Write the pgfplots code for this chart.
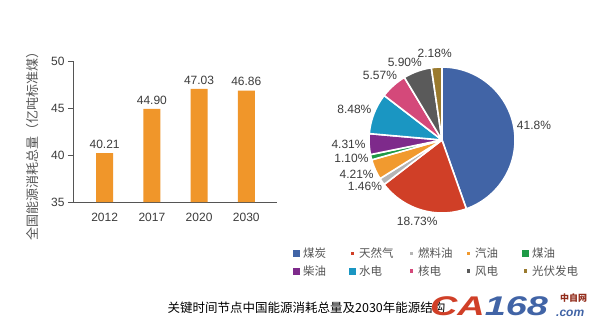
\documentclass[border=0pt]{standalone}
\usepackage{pgfplots}
\pgfplotsset{compat=1.18}
\usepackage{fontspec}
\setmainfont{Liberation Sans}
\newfontfamily\cjk{Noto Sans CJK SC}
\definecolor{barorange}{HTML}{F0962A}
\definecolor{axisgray}{HTML}{555555}
\definecolor{txtgray}{HTML}{3C3C3C}
\definecolor{cCoal}{HTML}{4164A6}
\definecolor{cGas}{HTML}{D03F27}
\definecolor{cFuel}{HTML}{B5B5B5}
\definecolor{cGasoline}{HTML}{F19A2F}
\definecolor{cKero}{HTML}{1E9A46}
\definecolor{cDiesel}{HTML}{7E2A8B}
\definecolor{cHydro}{HTML}{1A96C2}
\definecolor{cNuc}{HTML}{D4497A}
\definecolor{cWind}{HTML}{5A5A5A}
\definecolor{cSolar}{HTML}{9A7A2E}
\newcommand\fs{\fontsize{12}{14}\selectfont}
\def\T{93.74}
\newcommand\slice[3]{%
  \pgfmathsetmacro\sa{90-(360/\T)*(#1+#2)}%
  \pgfmathsetmacro\sb{90-(360/\T)*(#1)}%
  \edef\tmp{\noexpand\addplot[forget plot, fill=#3, draw=white, line width=1.6pt, line join=round, domain=\sa:\sb, samples=90] ({cos(x)},{sin(x)}) -- (0,0) -- cycle;}%
  \tmp
}
\pgfplotsset{
  bigsq/.style={legend image code/.code={\path[draw=none,fill=none] (0pt,-3.5pt) rectangle (7pt,3.5pt); \fill[#1, draw=none] (0pt,-3.5pt) rectangle (7pt,3.5pt);}},
  smsq/.style={legend image code/.code={\path[draw=none,fill=none] (0pt,-3.5pt) rectangle (7pt,3.5pt); \fill[#1, draw=none] (2pt,-1.6pt) rectangle (5.2pt,1.6pt);}},
}
\begin{document}
\begin{tikzpicture}
\useasboundingbox (0pt,0pt) rectangle (616pt,333pt);
\fill[white] (0pt,0pt) rectangle (616pt,333pt);
% bar chart
\begin{axis}[
  at={(73pt,131pt)}, anchor=south west,
  width=204pt, height=141pt, scale only axis,
  ymin=35, ymax=50, ytick={35,40,45,50},
  xmin=-0.67, xmax=3.65,
  axis x line=bottom, axis y line=left,
  axis line style={draw=axisgray, line width=0.9pt, -},
  xtick={0,1,2,3}, xticklabels={2012,2017,2020,2030},
  major x tick style={draw=none},
  extra x ticks={-0.67,0.5,1.5,2.5,3.65}, extra x tick labels={},
  extra x tick style={tick style={draw=axisgray, line width=0.9pt}},
  ytick style={draw=axisgray, line width=0.9pt},
  tick align=outside, major tick length=5pt,
  tick label style={font=\fs, text=txtgray},
  /pgf/number format/assume math mode=true,
  xticklabel style={yshift=-3pt},
  clip=false,
]
\addplot[ybar, bar width=17pt, fill=barorange, draw=none,
  nodes near coords={\pgfmathprintnumber[assume math mode=true,fixed,fixed zerofill,precision=2]{\pgfplotspointmeta}},
  nodes near coords style={font=\fs, text=txtgray, yshift=1pt}]
  coordinates {(0,40.21) (1,44.90) (2,47.03) (3,46.86)};
\end{axis}
\node[rotate=90, font=\cjk\fontsize{13}{15}\selectfont, text=axisgray] at (33pt,190pt) {全国能源消耗总量（亿吨标准煤）};
% pie chart
\begin{axis}[
  at={(296pt,47pt)}, anchor=south west,
  width=292pt, height=292pt, scale only axis,
  xmin=-2, xmax=2, ymin=-2, ymax=2,
  hide axis, clip=false,
  legend columns=5,
  legend style={at={(axis description cs:-0.0223,0.137)}, anchor=north west, draw=none, fill=none,
    font=\cjk\fontsize{11.5}{13}\selectfont, text=axisgray,
    nodes={inner sep=0pt}, column sep=0pt, row sep=6pt},
]
\slice{0}{41.8}{cCoal}
\slice{41.8}{18.73}{cGas}
\slice{60.53}{1.46}{cFuel}
\slice{61.99}{4.21}{cGasoline}
\slice{66.2}{1.10}{cKero}
\slice{67.3}{4.31}{cDiesel}
\slice{71.61}{8.48}{cHydro}
\slice{80.09}{5.57}{cNuc}
\slice{85.66}{5.90}{cWind}
\slice{91.56}{2.18}{cSolar}
\addlegendimage{bigsq=cCoal}\addlegendentry{\makebox[49pt][l]{\hspace{3.5pt}煤炭}}
\addlegendimage{smsq=cGas}\addlegendentry{\makebox[52pt][l]{\hspace{3.5pt}天然气}}
\addlegendimage{smsq=cFuel}\addlegendentry{\makebox[50pt][l]{\hspace{3.5pt}燃料油}}
\addlegendimage{smsq=cGasoline}\addlegendentry{\makebox[50pt][l]{\hspace{3.5pt}汽油}}
\addlegendimage{bigsq=cKero}\addlegendentry{\makebox[50pt][l]{\hspace{3.5pt}煤油}}
\addlegendimage{bigsq=cDiesel}\addlegendentry{\makebox[49pt][l]{\hspace{3.5pt}柴油}}
\addlegendimage{bigsq=cHydro}\addlegendentry{\makebox[52pt][l]{\hspace{3.5pt}水电}}
\addlegendimage{smsq=cNuc}\addlegendentry{\makebox[50pt][l]{\hspace{3.5pt}核电}}
\addlegendimage{smsq=cWind}\addlegendentry{\makebox[50pt][l]{\hspace{3.5pt}风电}}
\addlegendimage{smsq=cSolar}\addlegendentry{\makebox[50pt][l]{\hspace{3.5pt}光伏发电}}
\begin{scope}[every node/.style={font=\fs, text=txtgray}]
\node at (axis cs:1.26,0.205) {41.8\%};
\node at (axis cs:-0.34,-1.11) {18.73\%};
\node at (axis cs:-1.055,-0.64) {1.46\%};
\node at (axis cs:-1.17,-0.47) {4.21\%};
\node at (axis cs:-1.24,-0.25) {1.10\%};
\node at (axis cs:-1.28,-0.055) {4.31\%};
\node at (axis cs:-1.20,0.425) {8.48\%};
\node at (axis cs:-0.85,0.89) {5.57\%};
\node at (axis cs:-0.51,1.07) {5.90\%};
\node at (axis cs:-0.10,1.19) {2.18\%};
\end{scope}
\end{axis}
% caption
\node[font=\cjk\fontsize{12.5}{14}\selectfont, text=black] at (306.5pt,25pt) {关键时间节点中国能源消耗总量及2030年能源结构};
% watermark logo
\node[anchor=west, inner sep=0pt] at (430pt,27pt) {\scalebox{1.4}[1]{\fontsize{27}{28}\selectfont\bfseries\itshape\textcolor{cGas}{CA}\textcolor{cCoal}{168}}};
\node[anchor=west, inner sep=0pt, font=\fontsize{12}{12}\selectfont\bfseries\itshape, text=cCoal] at (556pt,20pt) {.com};
\node[anchor=west, inner sep=0pt, font=\cjk\fontsize{9}{9}\selectfont\bfseries, text=cGas!70!black] at (560pt,35pt) {中自网};
\end{tikzpicture}
\end{document}
